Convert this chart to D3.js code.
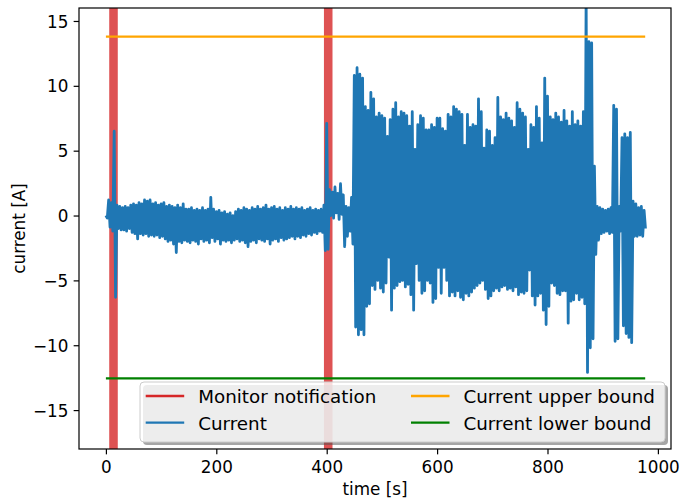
<!DOCTYPE html>
<html>
<head>
<meta charset="utf-8">
<script src="https://cdn.jsdelivr.net/npm/d3@7"></script>
<style>
body { margin: 0; background: #fff; overflow: hidden; }
svg { display: block; }
svg text { font-family: "DejaVu Sans", sans-serif; fill: #000; }
</style>
</head>
<body>
<div id="plot"></div>
<script>
// Width and height
const w = 680;
const h = 501;
const margin = {top: 8, right: 9, bottom: 52, left: 79};
const innerWidth = w - margin.left - margin.right;
const innerHeight = h - margin.top - margin.bottom;

// sampling step of the readings below [s]
const step = 5;

// upper peak of the current in each 5 s slot, t = 0 .. 975
const hi = [
  0.0, 1.2, 1.0, 6.5, 0.8, 0.7, 0.6, 0.7, 0.6, 0.8,
  0.9, 0.8, 1.0, 0.9, 1.2, 1.1, 1.2, 0.9, 1.0, 0.8,
  0.9, 1.0, 0.7, 0.8, 0.7, 0.6, 0.8, 0.6, 0.9, 0.5,
  0.5, 0.6, 0.4, 0.5, 0.4, 0.6, 0.4, 0.5, 1.4, 0.5,
  0.3, 0.4, 0.2, 0.3, 0.1, 0.2, 0.0, 0.3, 0.5, 0.4,
  0.6, 0.5, 0.4, 0.6, 0.5, 0.7, 0.5, 0.6, 0.8, 0.5,
  0.6, 0.7, 0.5, 0.6, 0.4, 0.6, 0.5, 0.7, 0.5, 0.6,
  0.5, 0.6, 0.4, 0.5, 0.6, 0.4, 0.5, 0.4, 0.5, 0.8,
  7.1, 2.0, 1.8, 2.2, 1.7, 2.45, 1.6, 0.7, 0.6, 1.4,
  10.8, 11.4, 10.9, 10.6, 8.4, 8.1, 9.5, 9.0, 7.6, 7.9,
  7.7, 7.5, 6.1, 7.4, 8.2, 8.7, 7.6, 8.0, 7.9, 7.7,
  6.9, 8.0, 5.1, 7.0, 7.7, 7.5, 6.6, 6.6, 7.0, 6.8,
  7.5, 7.5, 6.7, 6.5, 7.8, 7.6, 8.4, 8.2, 8.0, 7.8,
  5.4, 7.8, 6.8, 7.0, 6.9, 9.0, 8.0, 5.2, 6.6, 6.5,
  5.4, 6.0, 9.1, 7.6, 7.4, 7.9, 7.5, 7.3, 6.8, 8.7,
  8.2, 7.9, 7.6, 5.1, 7.0, 6.8, 8.4, 7.5, 5.6, 10.6,
  9.2, 7.6, 7.4, 7.9, 7.6, 7.2, 8.1, 7.3, 6.9, 8.0,
  7.0, 7.3, 6.9, 8.0, 17.0, 13.4, 13.3, 3.8, 0.7, 0.6,
  0.5, 0.4, 0.5, 0.6, 8.5, 8.2, 0.7, 6.0, 6.3, 6.0,
  6.4, 1.1, 0.9, 0.6, 0.7, 0.4
];

// lower peak of the current in each slot (half a step later)
const lo = [
  -0.2, -0.9, -1.2, -6.3, -1.0, -1.1, -1.1, -1.2, -1.0, -1.3,
  -1.4, -1.8, -1.4, -1.5, -1.4, -1.6, -1.5, -1.6, -1.5, -1.7,
  -1.6, -1.8, -2.0, -1.9, -2.2, -2.85, -2.0, -2.1, -1.9, -2.0,
  -2.1, -1.9, -2.0, -2.2, -1.8, -2.0, -1.9, -2.1, -1.7, -2.0,
  -1.8, -2.2, -1.9, -2.0, -1.9, -2.1, -1.9, -1.8, -2.0, -1.9,
  -2.1, -2.4, -2.0, -1.9, -2.1, -1.8, -1.9, -2.0, -1.8, -2.2,
  -1.9, -1.8, -2.0, -1.7, -1.9, -1.8, -1.7, -1.6, -1.8, -1.6,
  -1.7, -1.5, -1.6, -1.4, -1.5, -1.3, -1.4, -1.2, -1.3, -2.7,
  -2.6, 0.0, -0.2, 0.2, -0.3, 0.1, -2.4, -1.6, -1.2, -2.2,
  -8.6, -9.2, -8.8, -9.2, -7.0, -6.8, -5.4, -5.7, -5.0, -5.6,
  -5.9, -5.2, -3.2, -7.3, -5.6, -5.4, -5.1, -5.0, -5.5, -5.3,
  -6.1, -7.3, -3.7, -5.0, -6.0, -5.8, -5.0, -5.2, -6.7, -6.4,
  -4.0, -6.0, -4.0, -5.0, -6.2, -5.9, -6.2, -5.8, -6.3, -6.5,
  -6.0, -6.2, -5.9, -5.6, -5.4, -5.2, -5.0, -5.7, -6.4, -6.2,
  -5.8, -5.6, -5.8, -5.5, -5.4, -5.7, -5.6, -5.8, -5.5, -6.1,
  -5.9, -6.0, -5.8, -4.2, -6.2, -6.9, -6.2, -6.0, -7.3, -8.4,
  -7.0, -5.2, -5.4, -6.0, -6.1, -5.8, -5.8, -8.3, -6.6, -6.5,
  -6.0, -6.5, -6.3, -6.8, -12.1, -10.2, -9.5, -3.0, -1.9, -1.4,
  -1.3, -1.2, -1.4, -1.3, -9.7, -9.5, -1.2, -8.5, -9.1, -9.4,
  -9.8, -1.6, -1.6, -1.5, -1.6, -1.0
];

// monitor notification windows [s]
const notifications = [[6, 21.5], [395, 410.5]];

// bounds
const boundTimes = [0, 977];
const upperBound = 13.8;
const lowerBound = -12.55;

const xTicks = [0, 200, 400, 600, 800, 1000];
const yTicks = [-15, -10, -5, 0, 5, 10, 15];

const legendItems = [
  {label: "Monitor notification", color: "#d62728"},
  {label: "Current", color: "#1f77b4"},
  {label: "Current upper bound", color: "#ffa500"},
  {label: "Current lower bound", color: "#008000"}
];

// signal points: upper peak then lower peak in each slot
const signal = [];
hi.forEach((v, i) => {
  signal.push([i * step, v]);
  signal.push([i * step + step / 2, lo[i]]);
});

// create SVG element
const svg = d3.select("div#plot")
  .append("svg")
    .attr("width", w)
    .attr("height", h);

svg.append("rect")
  .attr("width", w)
  .attr("height", h)
  .attr("fill", "#fff");

const xScale = d3.scaleLinear()
  .domain([-48.75, 1023.75])
  .range([0, innerWidth]);

const yScale = d3.scaleLinear()
  .domain([-18, 16])
  .range([innerHeight, 0]);

svg.append("defs")
  .append("clipPath")
    .attr("id", "clip")
  .append("rect")
    .attr("width", innerWidth)
    .attr("height", innerHeight);

const g = svg.append("g")
  .attr("id", "plot")
  .attr("transform", `translate(${margin.left}, ${margin.top})`);

// notification bands
g.selectAll("rect.band")
  .data(notifications)
  .enter()
  .append("rect")
    .attr("class", "band")
    .attr("x", d => xScale(d[0]))
    .attr("y", 0)
    .attr("width", d => xScale(d[1]) - xScale(d[0]))
    .attr("height", innerHeight)
    .attr("fill", "#d62728")
    .attr("fill-opacity", 0.8);

// current
g.append("path")
  .datum(signal)
  .attr("clip-path", "url(#clip)")
  .attr("fill", "none")
  .attr("stroke", "#1f77b4")
  .attr("stroke-width", 2.8)
  .attr("stroke-linejoin", "round")
  .attr("d", d3.line().x(d => xScale(d[0])).y(d => yScale(d[1])));

// bounds
[[upperBound, "#ffa500"], [lowerBound, "#008000"]].forEach(([b, c]) => {
  g.append("line")
    .attr("x1", xScale(boundTimes[0]))
    .attr("x2", xScale(boundTimes[1]))
    .attr("y1", yScale(b))
    .attr("y2", yScale(b))
    .attr("stroke", c)
    .attr("stroke-width", 2.3);
});

// axes
const xAxis = d3.axisBottom(xScale)
  .tickValues(xTicks)
  .tickFormat(d3.format("d"))
  .tickSize(5.35)
  .tickPadding(5.35);

const yAxis = d3.axisLeft(yScale)
  .tickValues(yTicks)
  .tickFormat(d3.format("d"))
  .tickSize(5.35)
  .tickPadding(5.35);

const gx = g.append("g")
  .attr("id", "xaxis")
  .attr("transform", `translate(0, ${innerHeight})`)
  .call(xAxis);

const gy = g.append("g")
  .attr("id", "yaxis")
  .call(yAxis);

[gx, gy].forEach(a => {
  a.select(".domain").remove();
  a.selectAll(".tick line").attr("stroke", "#000").attr("stroke-width", 1.2);
  a.selectAll(".tick text")
    .style("font-size", "16.8px")
    .style("font-family", "DejaVu Sans");
});
gx.selectAll(".tick text").attr("dy", "0.8em");
gy.selectAll(".tick text").attr("dy", "0.36em");

// frame
g.append("rect")
  .attr("width", innerWidth)
  .attr("height", innerHeight)
  .attr("fill", "none")
  .attr("stroke", "#000")
  .attr("stroke-width", 1.2);

// axis labels
g.append("text")
  .attr("x", innerWidth / 2)
  .attr("y", innerHeight + 45.5)
  .attr("text-anchor", "middle")
  .style("font-size", "16.8px")
  .text("time [s]");

g.append("text")
  .attr("transform", "rotate(-90)")
  .attr("x", -innerHeight / 2)
  .attr("y", 25 - margin.left)
  .attr("text-anchor", "middle")
  .style("font-size", "16.8px")
  .text("current [A]");

// legend
const leg = svg.append("g").attr("id", "legend");
const lx = 140, ly = 382, lw = 525, lh = 60;
leg.append("rect")
  .attr("x", lx + 3).attr("y", ly + 3)
  .attr("width", lw).attr("height", lh)
  .attr("rx", 4)
  .attr("fill", "#4d4d4d")
  .attr("fill-opacity", 0.5);
leg.append("rect")
  .attr("x", lx).attr("y", ly)
  .attr("width", lw).attr("height", lh)
  .attr("rx", 4)
  .attr("fill", "#fff")
  .attr("fill-opacity", 0.8)
  .attr("stroke", "#ccc")
  .attr("stroke-width", 1);

const cols = [145.7, 411];
const rows = [396, 422.7];
legendItems.forEach((d, i) => {
  const cx = cols[Math.floor(i / 2)];
  const cy = rows[i % 2];
  leg.append("line")
    .attr("x1", cx).attr("x2", cx + 38.5)
    .attr("y1", cy).attr("y2", cy)
    .attr("stroke", d.color)
    .attr("stroke-width", 2.3);
  leg.append("text")
    .attr("x", cx + 52.5)
    .attr("y", cy + 6.8)
    .style("font-size", "18.3px")
    .text(d.label);
});
</script>
</body>
</html>
